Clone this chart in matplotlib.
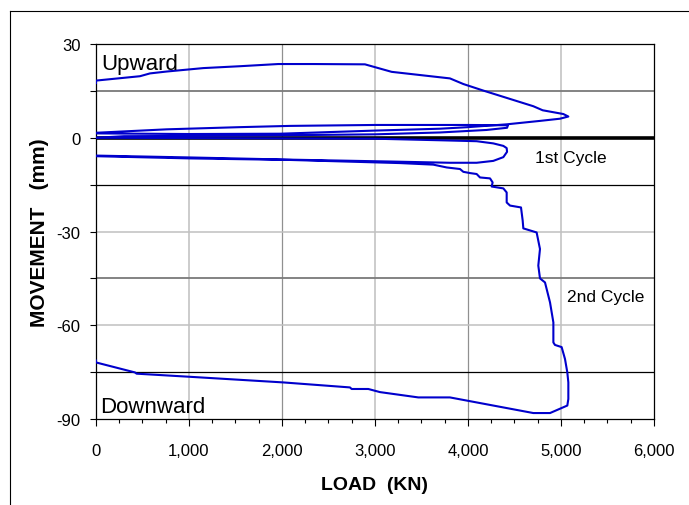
import matplotlib
matplotlib.use("Agg")
import matplotlib.pyplot as plt
from matplotlib.lines import Line2D
from matplotlib.ticker import MultipleLocator, FixedLocator, FuncFormatter

plt.rcParams['font.family'] = ['Liberation Sans', 'DejaVu Sans']
plt.rcParams['axes.unicode_minus'] = False

# Upward movement of the top plate: 1st cycle load/unload, then 2nd cycle
up_load = [0, 300, 1000, 2000, 3000, 3700, 4200, 4420, 4430,
           4000, 3000, 2086, 1548, 760, 0,
           0, 1000, 1978, 3000, 3700, 4000, 4416, 4774, 4989, 5079,
           5025, 4803, 4702, 4165, 3950, 3806, 3179, 2892, 2337, 1960,
           1548, 1154, 760, 581, 473, 0, 0]
up_move = [0, 0.5, 0.6, 0.8, 1.1, 1.7, 2.5, 3.2, 4.0,
           4.1, 4.1, 3.8, 3.4, 2.7, 1.6,
           1.4, 1.2, 1.3, 2.3, 2.9, 3.4, 4.3, 5.4, 6.1, 6.8,
           7.6, 8.8, 10.1, 15.1, 17.2, 19.0, 21.1, 23.5, 23.6, 23.6,
           22.9, 22.3, 21.2, 20.6, 19.7, 18.3, 17.5]

# Downward movement of the bottom plate
down_load = [0, 1000, 2000, 3000, 3700, 4093, 4272, 4380, 4416, 4420,
             4380, 4272, 4093, 3806, 3161, 2086, 1011, 0,
             0, 1000, 2086, 3269, 3627, 3771, 3914, 3950, 4022, 4093,
             4129, 4237, 4265, 4254, 4380, 4416, 4416, 4452, 4570, 4588,
             4595, 4738, 4774, 4756, 4774, 4828, 4882, 4918, 4918, 4935,
             5007, 5043, 5068, 5079, 5079, 5068, 4882, 4702, 3806, 3466,
             3054, 2928, 2749, 2731, 2014, 1011, 437, 419, 0, 0]
down_move = [0, -0.1, -0.2, -0.3, -0.8, -1.1, -1.8, -2.6, -3.3, -4.5,
             -6.2, -7.4, -8.0, -8.0, -7.6, -7.0, -6.3, -5.7,
             -5.9, -6.6, -7.1, -8.1, -8.6, -9.5, -10.0, -10.9, -11.3, -11.6,
             -12.7, -13.0, -14.3, -15.6, -16.2, -17.5, -20.7, -21.7, -22.3, -26.5,
             -29.0, -30.3, -35.6, -40.9, -45.0, -46.3, -52.7, -59.1, -65.5, -66.3,
             -67.0, -70.8, -75.1, -78.3, -83.6, -85.7, -88.1, -88.1, -83.1, -83.1,
             -81.4, -80.4, -80.4, -79.9, -78.3, -76.5, -75.5, -75.1, -71.9, -71.3]

x_ticks = [0, 1000, 2000, 3000, 4000, 5000, 6000]
y_ticks = [30, 0, -30, -60, -90]

fig = plt.figure(figsize=(6.89, 5.06), dpi=100)
ax = fig.add_axes([0.1393, 0.170, 0.8099, 0.741])

ax.set_xlim(0, 6000)
ax.set_ylim(-90, 30)

# vertical grid lines
for xv in [1000, 3000, 5000]:
    ax.axvline(xv, color='#c8c8c8', lw=1.3, zorder=1)
for xv in [2000, 4000]:
    ax.axvline(xv, color='#909090', lw=0.9, zorder=1)
# horizontal grid lines
for yv in [-30, -60]:
    ax.axhline(yv, color='#c0c0c0', lw=1.1, zorder=1)
for yv in [15, -45]:
    ax.axhline(yv, color='#7a7a7a', lw=1.3, zorder=1)
for yv in [-15, -75]:
    ax.axhline(yv, color='black', lw=0.9, zorder=1)
ax.axhline(0, color='black', lw=2.6, zorder=2)

ax.plot(up_load, up_move, color='#0000CC', lw=1.5, zorder=3)
ax.plot(down_load, down_move, color='#0000CC', lw=1.5, zorder=3)

ax.xaxis.set_major_locator(FixedLocator(x_ticks))
ax.xaxis.set_minor_locator(MultipleLocator(250))
ax.xaxis.set_major_formatter(FuncFormatter(lambda v, p: f"{int(v):,}"))
ax.yaxis.set_major_locator(FixedLocator(y_ticks))
ax.yaxis.set_minor_locator(MultipleLocator(15))

ax.tick_params(axis='x', which='major', direction='out', length=5, width=0.8,
               labelsize=12, pad=12.5)
ax.tick_params(axis='x', which='minor', direction='out', length=3, width=0.8)
ax.tick_params(axis='y', which='major', direction='out', length=4, width=0.8,
               labelsize=12, pad=7)
ax.tick_params(axis='y', which='minor', direction='out', length=4, width=0.8)

for s in ax.spines.values():
    s.set_color('black')
    s.set_linewidth(0.9)

ax.set_xlabel('LOAD  (KN)', fontsize=14, fontweight='bold', labelpad=13)
ax.set_ylabel('MOVEMENT   (mm)', fontsize=15, fontweight='bold', labelpad=5.5)

ax.text(61, 22, 'Upward', fontsize=16, ha='left', va='baseline', zorder=4)
ax.text(43, -87.9, 'Downward', fontsize=16, ha='left', va='baseline', zorder=4)
ax.text(4720, -7.7, '1st Cycle', fontsize=12.5, ha='left', va='baseline', zorder=4)
ax.text(5068, -52.3, '2nd Cycle', fontsize=12.5, ha='left', va='baseline', zorder=4)

# outer frame around the chart area
fig.add_artist(Line2D([0.014, 0.014], [0.0, 0.977], color='black', lw=0.8,
                      transform=fig.transFigure))
fig.add_artist(Line2D([0.014, 1.0], [0.977, 0.977], color='black', lw=0.8,
                      transform=fig.transFigure))

fig.savefig('out.png', dpi=100)
